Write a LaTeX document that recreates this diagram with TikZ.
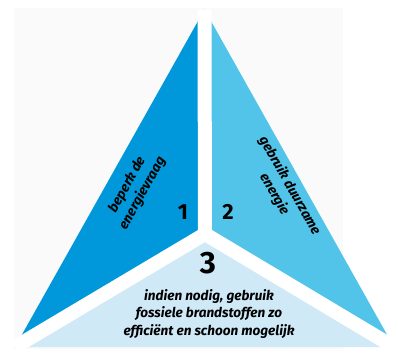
\documentclass[tikz,border=0pt]{standalone}
\usepackage{fontspec}
\setmainfont{Fira Sans}
\definecolor{cleft}{RGB}{0,152,218}
\definecolor{cright}{RGB}{82,196,234}
\definecolor{cbottom}{RGB}{207,233,247}
\definecolor{cbg}{RGB}{250,250,250}
\begin{document}
\begin{tikzpicture}[x=1bp,y=-1bp,
  lbl/.style={font=\bfseries\itshape\fontsize{13.6}{17.5}\selectfont, align=center, inner sep=0pt, text=black},
  num/.style={font=\bfseries\fontsize{22}{22}\selectfont, inner sep=0pt, text=black},
  bignum/.style={font=\bfseries\fontsize{31}{31}\selectfont, inner sep=0pt, text=black},
  gap/.style={draw=white, line width=14bp}]
\useasboundingbox (0,0) rectangle (398,358);
\fill[cbg] (14,8) rectangle (343,349);
\coordinate (A) at (204.5,9.5);
\coordinate (BL) at (15,347);
\coordinate (BR) at (394,347);
\coordinate (O) at (205,234);
\fill[cleft] (A) -- (O) -- (BL) -- cycle;
\fill[cright] (A) -- (BR) -- (O) -- cycle;
\fill[cbottom] (BL) -- (O) -- (BR) -- cycle;
\draw[gap] (O) -- (A);
\draw[gap] (O) -- (BL);
\draw[gap] (O) -- (BR);
\node[lbl, rotate=61] (t1) at (135,189) {beperk de\\energievraag};
\node[lbl, rotate=-60.5] (t2) at (282,190) {gebruik duurzame\\energie};
\node[num] (n1) at (183,212) {1};
\node[num] (n2) at (228,212) {2};
\node[bignum] (n3) at (208,263) {3};
\node[lbl] (t3) at (209,314) {indien nodig, gebruik\\fossiele brandstoffen zo\\efficiënt en schoon mogelijk};
\end{tikzpicture}
\end{document}
